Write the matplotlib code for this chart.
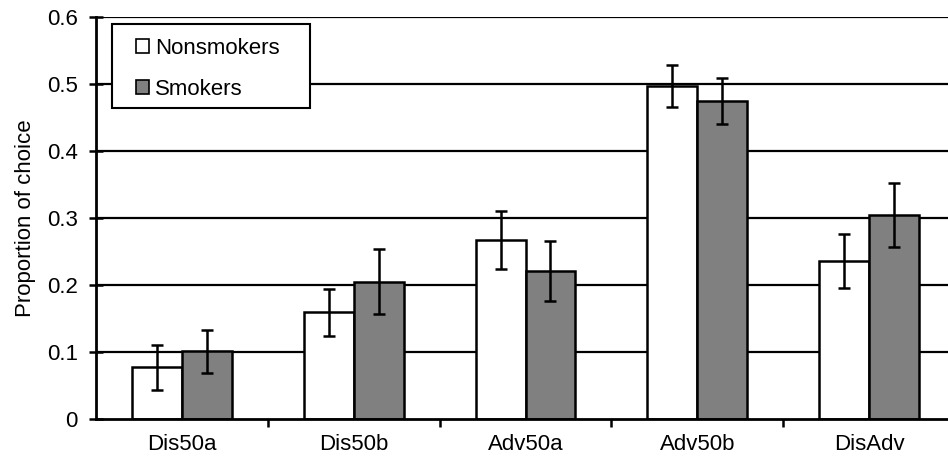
import numpy as np
import matplotlib.pyplot as plt
from matplotlib.patches import Rectangle

plt.rcParams['font.family'] = ['Liberation Sans', 'DejaVu Sans']

# data
categories = ['Dis50a', 'Dis50b', 'Adv50a', 'Adv50b', 'DisAdv']
nonsmokers = [0.077, 0.159, 0.267, 0.497, 0.236]
nonsmokers_err = [0.034, 0.035, 0.043, 0.032, 0.040]
smokers = [0.101, 0.205, 0.221, 0.475, 0.304]
smokers_err = [0.032, 0.049, 0.045, 0.034, 0.048]

fig = plt.figure(figsize=(9.48, 4.57), dpi=100)
# axes runs a bit past the right edge, like the original crop
ax = fig.add_axes([96 / 948, 38 / 457, 859 / 948, 402 / 457])

x = np.arange(len(categories)) + 0.5
w = 0.29

# gridlines behind
for g in np.arange(0.1, 0.61, 0.1):
    ax.axhline(g, color='black', lw=1.6, zorder=0)

ax.bar(x - w / 2, nonsmokers, w, color='white', edgecolor='black', lw=1.8,
       yerr=nonsmokers_err, capsize=4.3,
       error_kw=dict(elinewidth=1.8, capthick=1.8, ecolor='black'),
       label='Nonsmokers', zorder=2)
ax.bar(x + w / 2, smokers, w, color='#808080', edgecolor='black', lw=1.8,
       yerr=smokers_err, capsize=4.3,
       error_kw=dict(elinewidth=1.8, capthick=1.8, ecolor='black'),
       label='Smokers', zorder=2)

ax.set_xlim(0, len(categories))
ax.set_ylim(0, 0.6)
ax.set_yticks(np.arange(0, 0.61, 0.1))
ax.set_yticklabels(['0', '0.1', '0.2', '0.3', '0.4', '0.5', '0.6'], fontsize=16)

ax.set_xticks(x)
ax.set_xticklabels(categories, fontsize=16)
ax.set_xticks(np.arange(1, len(categories)), minor=True)
ax.tick_params(axis='x', which='major', length=0, pad=11)
ax.tick_params(axis='x', which='minor', length=6, width=1.8, direction='out')
ax.tick_params(axis='y', length=10, width=1.8, direction='inout', pad=8)

for s in ['top', 'right']:
    ax.spines[s].set_visible(False)
for s in ['left', 'bottom']:
    ax.spines[s].set_linewidth(2)

ax.set_ylabel('Proportion of choice', fontsize=16)
ax.yaxis.set_label_coords(-60 / 859, 0.5)

# legend box drawn separately so it can be wider than the text
frame = Rectangle(((112 - 96) / 859, (419 - 108) / 402), 198 / 859, 84 / 402,
                  transform=ax.transAxes, facecolor='white', edgecolor='black',
                  lw=1.5, zorder=4)
ax.add_patch(frame)

leg = ax.legend(loc='upper left', bbox_to_anchor=((136 - 96) / 859, (419 - 38) / 402),
                fontsize=16, frameon=False, borderpad=0, labelspacing=0.89,
                handlelength=0.6, handleheight=0.6, handletextpad=0.25,
                borderaxespad=0)
leg.set_zorder(5)
for h in leg.legend_handles:
    h.set_linewidth(1.2)

plt.savefig('out.png', dpi=100)
